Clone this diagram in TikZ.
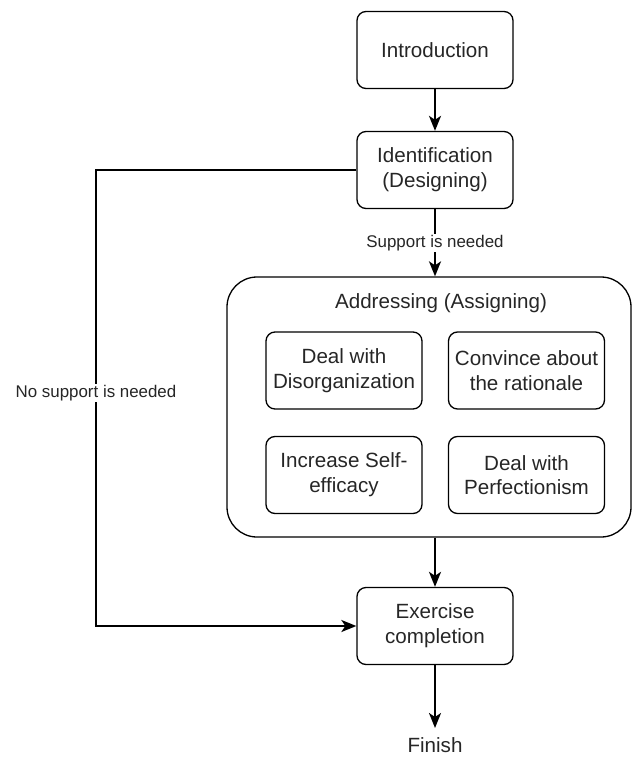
\documentclass[tikz,border=0pt]{standalone}
\usepackage{fontspec}
\setmainfont{Liberation Sans}
\usetikzlibrary{arrows.meta}
\definecolor{fltext}{HTML}{262626}

\begin{document}
\begin{tikzpicture}[x=1pt, y=-1pt,
  stepbox/.style={draw=black, line width=1.3pt, rounded corners=9pt, minimum width=156pt, minimum height=77pt, inner sep=2pt, align=center, text=fltext, font=\fontsize{20.6}{24.7}\selectfont},
  groupbox/.style={draw=black, line width=1.3pt, rounded corners=30pt, minimum width=404pt, minimum height=260pt, inner sep=0pt},
  flow/.style={line width=2.2pt, -{Stealth[length=15pt, width=12pt, inset=4pt]}},
  edgelabel/.style={fill=white, inner sep=1pt, text=fltext, font=\fontsize{16.9}{20}\selectfont}]
  \useasboundingbox (0,0) rectangle (632,757);

  % main column
  \node[stepbox] (intro) at (435,50) {Introduction};
  \node[stepbox] (ident) at (435,170) {Identification\\(Designing)};

  % addressing group
  \node[groupbox] (addr) at (429,407) {};
  \node[text=fltext, font=\fontsize{20.6}{24.7}\selectfont] (addrtitle) at (441,303) {Addressing (Assigning)};
  \node[stepbox] (disorg) at (344,370.5) {Deal with\\Disorganization};
  \node[stepbox] (ration) at (526.5,370.5) {Convince about\\the rationale};
  \node[stepbox] (selfeff) at (344,475) {Increase Self-\\efficacy};
  \node[stepbox] (perfect) at (526.5,475) {Deal with\\Perfectionism};

  \node[stepbox] (exer) at (435,626) {Exercise\\completion};
  \node[anchor=north, inner sep=0pt, inner ysep=9pt, text=fltext, font=\fontsize{20.6}{24.7}\selectfont] (finish) at (435,728) {Finish};

  % connectors
  \draw[flow] (intro) -- (ident);
  \draw[flow] (ident.south) -- node[edgelabel] (suplabel) {Support is needed} (ident.south |- addr.north);
  \draw[flow] (exer.north |- addr.south) -- (exer.north);
  \draw[flow] (exer) -- (finish);

  \coordinate (nsbend) at (96,393);
  \draw[flow] (ident.west) -| (nsbend) |- (exer.west);
  \node[edgelabel] (nolabel) at (nsbend) {No support is needed};
\end{tikzpicture}
\end{document}
